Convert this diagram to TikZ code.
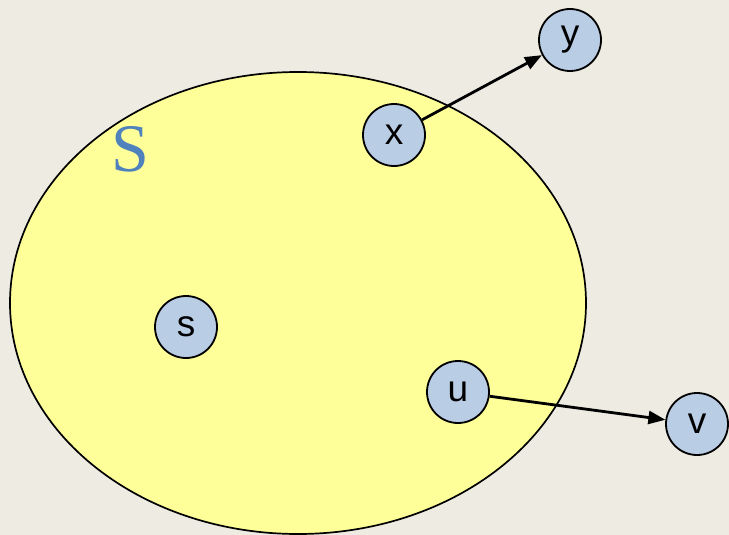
\documentclass[tikz,border=0pt]{standalone}
\usepackage{fontspec}
\setmainfont{Liberation Sans}
\newfontfamily\serifS{Liberation Serif}
\usetikzlibrary{arrows.meta}
\definecolor{bg}{HTML}{EDEBE2}
\definecolor{setfill}{HTML}{FFFF99}
\definecolor{nodefill}{HTML}{B9CDE5}
\definecolor{labelblue}{HTML}{4F81BD}
\tikzset{
  vtx/.style={circle, draw=black, line width=1.8pt, fill=nodefill, minimum size=62pt, inner sep=0pt, font=\fontsize{37}{37}\selectfont},
  edge/.style={line width=2.8pt, -{Triangle[length=17pt,width=13pt]}}
}
\begin{document}
\begin{tikzpicture}[x=1pt,y=-1pt]
\fill[bg] (0,0) rectangle (729,535);
\useasboundingbox (0,0) rectangle (729,535);
\draw[fill=setfill, line width=1.7pt] (298,303) ellipse [x radius=288, y radius=231];
\node[text=labelblue, font=\serifS\fontsize{68}{68}\selectfont] (lbl) at (130,149) {S};
\node[vtx] (x) at (394,135) {x};
\node[vtx] (y) at (570,40) {y};
\node[vtx] (s) at (186,327) {s};
\node[vtx] (u) at (458,392) {u};
\node[vtx] (v) at (697,424) {v};
\draw[edge] (x) -- (y);
\draw[edge] (u) -- (v);
\end{tikzpicture}
\end{document}
